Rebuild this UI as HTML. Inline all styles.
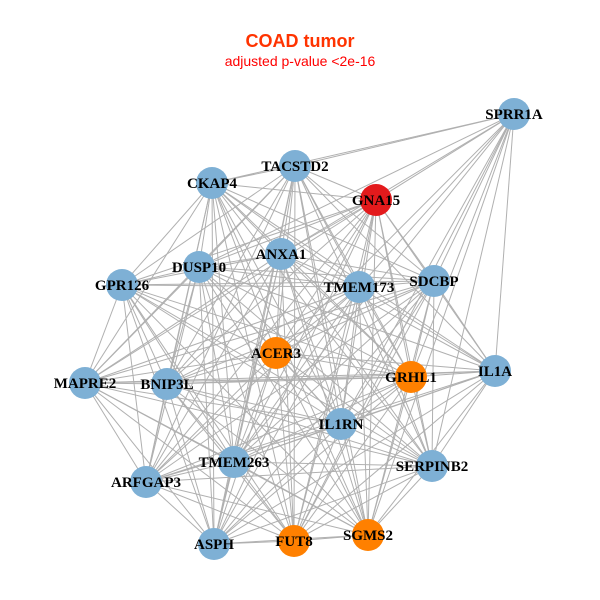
<!DOCTYPE html>
<html><head><meta charset="utf-8"><style>
html,body{margin:0;padding:0;background:#fff;}
svg{display:block;}
</style></head><body>
<svg id="s" width="600" height="600" xmlns="http://www.w3.org/2000/svg">
<rect width="600" height="600" fill="#fff"/>
<text x="300" y="47" text-anchor="middle" font-family="Liberation Sans, sans-serif" font-weight="bold" font-size="18" fill="#ff3300">COAD tumor</text>
<text x="300" y="66" text-anchor="middle" font-family="Liberation Sans, sans-serif" font-size="14" fill="#ff0000">adjusted p-value &lt;2e-16</text>
<g id="edges" stroke="#b0b0b0" stroke-width="1"></g>
<g id="nodes"></g>
<g id="labels" font-family="Liberation Serif, serif" font-weight="bold" font-size="15" fill="#000" text-anchor="middle"></g>
</svg>
<script>
var N=[
["SPRR1A",514,114,"b"],["TACSTD2",295,166,"b"],["CKAP4",212,183,"b"],["GNA15",376,200,"r"],
["ANXA1",281,254,"b"],["DUSP10",199,267,"b"],["GPR126",122,285,"b"],["TMEM173",359,287,"b"],
["SDCBP",434,281,"b"],["ACER3",276,353,"o"],["GRHL1",411,377,"o"],["IL1A",495,371,"b"],
["MAPRE2",85,383,"b"],["BNIP3L",167,384,"b"],["IL1RN",341,424,"b"],["SERPINB2",432,466,"b"],
["TMEM263",234,462,"b"],["ARFGAP3",146,482,"b"],["ASPH",214,544,"b"],["FUT8",294,541,"o"],["SGMS2",368,535,"o"]];
var col={b:"#7eb0d5",o:"#ff8000",r:"#e31a1c"};
var ns="http://www.w3.org/2000/svg";
var E=document.getElementById("edges"),G=document.getElementById("nodes"),L=document.getElementById("labels");
var skip={"0-12":1,"0-17":1,"0-18":1,"0-13":1,"0-6":1,"12-11":1,"6-11":1};
for(var i=0;i<N.length;i++)for(var j=i+1;j<N.length;j++){
 if(skip[i+"-"+j])continue;
 var l=document.createElementNS(ns,"line");
 l.setAttribute("x1",N[i][1]);l.setAttribute("y1",N[i][2]);
 l.setAttribute("x2",N[j][1]);l.setAttribute("y2",N[j][2]);E.appendChild(l);}
N.forEach(function(n){
 var c=document.createElementNS(ns,"circle");
 c.setAttribute("cx",n[1]);c.setAttribute("cy",n[2]);c.setAttribute("r",16);
 c.setAttribute("fill",col[n[3]]);G.appendChild(c);
 var t=document.createElementNS(ns,"text");
 t.setAttribute("x",n[1]);t.setAttribute("y",n[2]+5);t.textContent=n[0];L.appendChild(t);
});
</script>
</body></html>
